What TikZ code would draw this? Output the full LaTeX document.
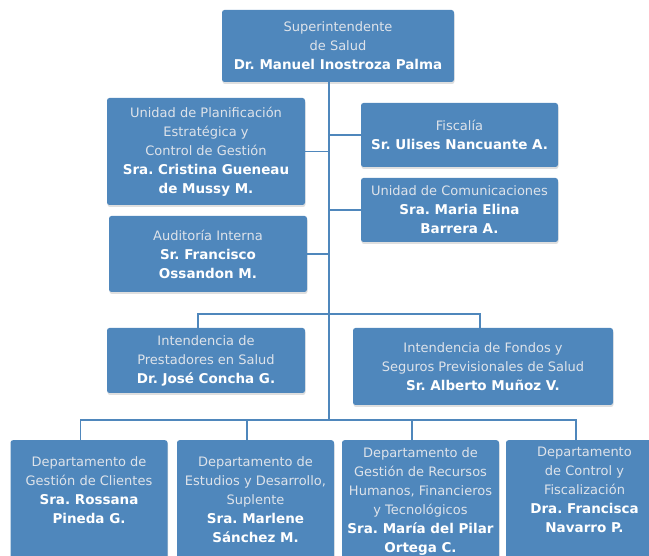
\documentclass[tikz,border=0pt]{standalone}
\usepackage{fontspec}
\setmainfont{DejaVu Sans}
\usetikzlibrary{positioning,shadows}

\definecolor{boxblue}{RGB}{79,135,188}
\definecolor{linkblue}{RGB}{79,135,188}
\definecolor{softtext}{RGB}{222,227,234}

\tikzset{
	unit/.style={rectangle, rounded corners=2.5pt, fill=boxblue, text=softtext, align=center,
		inner sep=0pt, font={\fontsize{13}{19}\selectfont\frenchspacing},
		drop shadow={shadow xshift=0.5pt, shadow yshift=-2pt, opacity=0.25, fill=gray}},
	unittext/.style={text=softtext, align=center, inner sep=0pt, font={\fontsize{13}{19}\selectfont\frenchspacing}},
	link/.style={draw=linkblue, line width=1.3pt}
}
\newcommand{\who}[1]{\textcolor{white}{\fontsize{13.5}{19}\selectfont\bfseries #1}}

\begin{document}
\begin{tikzpicture}[x=1pt,y=-1pt]
	\path[use as bounding box] (0,0) rectangle (649,556);
	\clip (0,0) rectangle (649,556);

	\node[unit, minimum width=232pt, minimum height=72pt] (sup) at (338,46)
		{Superintendente\\de Salud\\\who{Dr. Manuel Inostroza Palma}};

	\node[unit, minimum width=198pt, minimum height=107pt] (plan) at (206,151.5)
		{Unidad de Planificación\\Estratégica y\\Control de Gestión\\\who{Sra. Cristina Gueneau}\\\who{de Mussy M.}};
	\node[unit, minimum width=198pt, minimum height=76pt] (aud) at (208,254)
		{Auditoría Interna\\\who{Sr. Francisco}\\\who{Ossandon M.}};
	\node[unit, minimum width=197pt, minimum height=64pt] (fisc) at (459.5,135)
		{Fiscalía\\\who{Sr. Ulises Nancuante A.}};
	\node[unit, minimum width=197pt, minimum height=64pt] (com) at (459.5,210)
		{Unidad de Comunicaciones\\\who{Sra. Maria Elina}\\\who{Barrera A.}};

	\node[unit, minimum width=198pt, minimum height=65pt] (pres) at (206,360.5)
		{Intendencia de\\Prestadores en Salud\\\who{Dr. José Concha G.}};
	\node[unit, minimum width=260pt, minimum height=77pt] (fond) at (483,366.5)
		{Intendencia de Fondos y\\Seguros Previsionales de Salud\\\who{Sr. Alberto Muñoz V.}};

	% departamentos
	\foreach \i/\x in {1/89,2/255.5,3/420.5,4/584.5} {
		\node[unit, anchor=north, minimum width=157pt, minimum height=130pt] (d\i) at (\x,440) {};
	}
	\node[unittext, below=16pt of d1.north] (t1text)
		{Departamento de\\Gestión de Clientes\\\who{Sra. Rossana}\\\who{Pineda G.}};
	\node[unittext, below=16pt of d2.north] (t2text)
		{Departamento de\\Estudios y Desarrollo,\\Suplente\\\who{Sra. Marlene}\\\who{Sánchez M.}};
	\node[unittext, below=7pt of d3.north] (t3text)
		{Departamento de\\Gestión de Recursos\\Humanos, Financieros\\y Tecnológicos\\\who{Sra. María del Pilar}\\\who{Ortega C.}};
	\node[unittext, below=7pt of d4.north] (t4text)
		{Departamento\\de Control y\\Fiscalización\\\who{Dra. Francisca}\\\who{Navarro P.}};

	\coordinate (bus1) at (329,314);
	\coordinate (bus2) at (329,420);

	\draw[link] (sup.south -| bus2) -- (bus2);
	\draw[link] (plan.east) -- (plan.east -| bus2);
	\draw[link] (aud.east) -- (aud.east -| bus2);
	\draw[link] (fisc.west) -- (fisc.west -| bus2);
	\draw[link] (com.west) -- (com.west -| bus2);

	\draw[link] (bus1) -| ([xshift=-8pt]pres.north);
	\draw[link] (bus1) -| ([xshift=-3pt]fond.north);

	\foreach \i in {1,2,3,4} {
		\draw[link] (bus2) -| ([xshift=-8.5pt]d\i.north);
	}
\end{tikzpicture}
\end{document}
